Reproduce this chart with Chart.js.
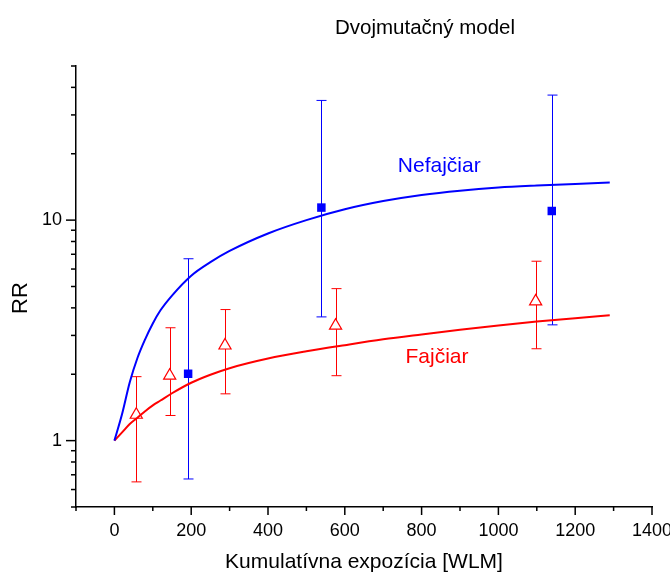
<!DOCTYPE html>
<html>
<head>
<meta charset="utf-8">
<title>Dvojmutačný model</title>
<script src="https://cdn.jsdelivr.net/npm/chart.js@4.4.1/dist/chart.umd.min.js"></script>
<style>
  html, body { margin: 0; padding: 0; background: #ffffff; }
  #wrap { width: 670px; height: 574px; }
</style>
</head>
<body>
<div id="wrap"><canvas id="c" width="670" height="574"></canvas></div>
<script>
// Model curves: relative risk versus cumulative exposure
const expo = [0, 20, 40, 60, 80, 100, 120, 150, 200, 250, 300, 400, 500, 600, 700, 800, 900, 1000, 1100, 1200, 1290];
const rrNefajciar = [1.00, 1.32, 1.84, 2.37, 2.88, 3.40, 3.90, 4.55, 5.60, 6.45, 7.25, 8.70, 10.0, 11.2, 12.2, 13.0, 13.6, 14.05, 14.35, 14.6, 14.8];
const rrFajciar = [1.00, 1.09, 1.19, 1.27, 1.36, 1.445, 1.52, 1.64, 1.83, 1.99, 2.13, 2.355, 2.54, 2.71, 2.88, 3.03, 3.18, 3.33, 3.47, 3.59, 3.70];

// Observed RR with confidence intervals — non-smokers
const nfX = [192, 539, 1139];
const nfRR = [2.01, 11.4, 11.0];
const nfLow = [0.67, 3.64, 3.35];
const nfHigh = [6.68, 34.9, 36.9];

// Observed RR with confidence intervals — smokers
const fX = [57, 144, 288, 576, 1097];
const fRR = [1.31, 1.97, 2.70, 3.32, 4.28];
const fLow = [0.65, 1.30, 1.63, 1.97, 2.61];
const fHigh = [1.95, 3.25, 3.93, 4.89, 6.51];

// Axis ticks
const xLabelTicks = [0, 200, 400, 600, 800, 1000, 1200, 1400];
const xMinorTicks = [-100, 100, 300, 500, 700, 900, 1100, 1300];
const yLabelTicks = [1, 10];
const yMinorTicks = [0.5, 0.6, 0.7, 0.8, 0.9, 2, 3, 4, 5, 6, 7, 8, 9, 20, 30, 40, 50];

const BLUE = '#0000ff';
const RED = '#ff0000';
const FONT = '"Liberation Sans", Arial, sans-serif';

const pts = (xs, ys) => xs.map((x, i) => ({ x: x, y: ys[i] }));

// Vertical error bars with caps, drawn under the markers
const errorBars = {
  id: 'errorBars',
  beforeDatasetsDraw(chart) {
    const { ctx, scales: { x, y } } = chart;
    const draw = (xs, lo, hi, color) => {
      ctx.save();
      ctx.strokeStyle = color;
      ctx.lineWidth = 1;
      xs.forEach((v, i) => {
        const px = Math.round(x.getPixelForValue(v)) + 0.5;
        const pLo = y.getPixelForValue(lo[i]);
        const pHi = y.getPixelForValue(hi[i]);
        ctx.beginPath();
        ctx.moveTo(px, pLo); ctx.lineTo(px, pHi);
        ctx.moveTo(px - 5, pLo); ctx.lineTo(px + 5, pLo);
        ctx.moveTo(px - 5, pHi); ctx.lineTo(px + 5, pHi);
        ctx.stroke();
      });
      ctx.restore();
    };
    draw(fX, fLow, fHigh, RED);
    draw(nfX, nfLow, nfHigh, BLUE);
  }
};

// Outward tick marks on both axes, plus titles and curve labels
const decorations = {
  id: 'decorations',
  afterDraw(chart) {
    const { ctx, scales: { x, y } } = chart;
    const ca = chart.chartArea;
    ctx.save();
    ctx.strokeStyle = '#000';
    ctx.lineWidth = 1.5;
    const xt = (v, len) => {
      const px = x.getPixelForValue(v);
      ctx.beginPath(); ctx.moveTo(px, ca.bottom); ctx.lineTo(px, ca.bottom + len); ctx.stroke();
    };
    const yt = (v, len) => {
      const py = y.getPixelForValue(v);
      ctx.beginPath(); ctx.moveTo(ca.left, py); ctx.lineTo(ca.left - len, py); ctx.stroke();
    };
    xLabelTicks.forEach(v => xt(v, 8));
    xMinorTicks.forEach(v => xt(v, 4));
    yLabelTicks.forEach(v => yt(v, 10));
    yMinorTicks.forEach(v => yt(v, 5));

    ctx.textAlign = 'center';
    ctx.textBaseline = 'middle';
    ctx.fillStyle = '#000';
    ctx.font = '20.5px ' + FONT;
    ctx.fillText('Dvojmutačný model', 425, 28);

    // vertical axis title
    ctx.save();
    ctx.font = '22px ' + FONT;
    ctx.translate(21, 298);
    ctx.rotate(-Math.PI / 2);
    ctx.fillText('RR', 0, 0);
    ctx.restore();

    ctx.font = '21px ' + FONT;
    ctx.fillStyle = BLUE;
    ctx.fillText('Nefajčiar', x.getPixelForValue(846), y.getPixelForValue(17.5));
    ctx.fillStyle = RED;
    ctx.fillText('Fajčiar', x.getPixelForValue(840), y.getPixelForValue(2.40));
    ctx.restore();
  }
};

new Chart(document.getElementById('c'), {
  type: 'scatter',
  data: {
    datasets: [
      {
        label: 'Nefajčiar model',
        data: pts(expo, rrNefajciar),
        showLine: true,
        borderColor: BLUE,
        borderWidth: 2,
        pointRadius: 0,
        cubicInterpolationMode: 'monotone'
      },
      {
        label: 'Fajčiar model',
        data: pts(expo, rrFajciar),
        showLine: true,
        borderColor: RED,
        borderWidth: 2,
        pointRadius: 0,
        cubicInterpolationMode: 'monotone'
      },
      {
        label: 'Nefajčiar',
        data: pts(nfX, nfRR),
        pointStyle: 'rect',
        pointRadius: 6,
        backgroundColor: BLUE,
        borderColor: BLUE,
        borderWidth: 0
      },
      {
        label: 'Fajčiar',
        data: pts(fX, fRR),
        pointStyle: 'triangle',
        pointRadius: 7,
        backgroundColor: '#ffffff',
        borderColor: RED,
        borderWidth: 1.2
      }
    ]
  },
  options: {
    responsive: false,
    animation: false,
    layout: { padding: { left: 0, right: 18, top: 66, bottom: 0 } },
    plugins: {
      legend: { display: false },
      tooltip: { enabled: false }
    },
    scales: {
      x: {
        type: 'linear',
        min: -100,
        max: 1400,
        afterFit(s) { s.height = 67; s.paddingLeft = 0; s.paddingRight = 0; },
        afterBuildTicks(s) { s.ticks = xLabelTicks.map(v => ({ value: v })); },
        grid: { display: false },
        border: { display: true, color: '#000', width: 1.5 },
        ticks: {
          padding: 5,
          color: '#000',
          font: { family: FONT, size: 18 },
          callback: v => String(v)
        },
        title: {
          display: true,
          text: 'Kumulatívna expozícia [WLM]',
          color: '#000',
          font: { family: FONT, size: 21 },
          padding: { top: 0, bottom: -1 }
        }
      },
      y: {
        type: 'logarithmic',
        min: 0.5,
        max: 50,
        afterFit(s) { s.width = 76; s.paddingTop = 0; s.paddingBottom = 0; },
        afterBuildTicks(s) { s.ticks = yLabelTicks.map(v => ({ value: v })); },
        grid: { display: false },
        border: { display: true, color: '#000', width: 1.5 },
        ticks: {
          padding: 6,
          color: '#000',
          font: { family: FONT, size: 18 },
          callback: v => String(v)
        }
      }
    }
  },
  plugins: [errorBars, decorations]
});
</script>
</body>
</html>
